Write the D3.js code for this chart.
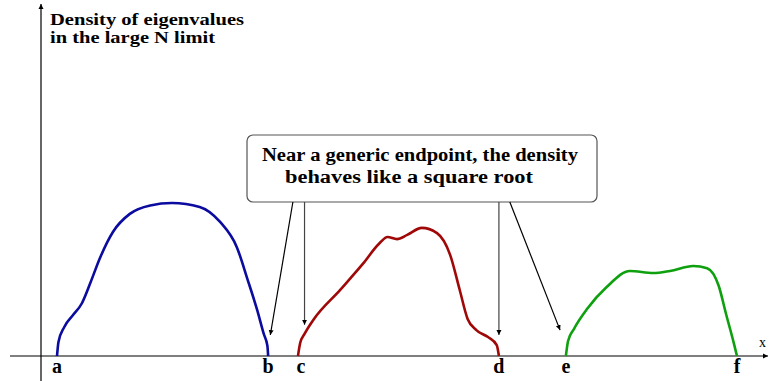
<!DOCTYPE html>
<html>
<head>
<meta charset="utf-8">
<script src="https://cdn.jsdelivr.net/npm/d3@7"></script>
<style>
  body { margin: 0; background: #fff; }
</style>
</head>
<body>
<div id="chart"></div>
<script>
// density curves, x in eigenvalue units (0-100), y in density units (0-100)
var blueBand = [
  [2.2, 0], [2.4, 4.0], [3.2, 8.3], [4.4, 11.7], [5.6, 15.0], [6.8, 21.0], [8.1, 28.0],
  [9.9, 35.5], [12.2, 40.6], [15.0, 43.0], [18.0, 43.7], [21.8, 42.6], [24.6, 38.3],
  [26.9, 31.1], [28.4, 21.7], [29.7, 13.1], [30.6, 6.3], [31.1, 2.9], [31.2, 0]
];
var redBand = [
  [35.3, 0], [35.6, 3.7], [36.2, 6.3], [37.4, 10.3], [41.1, 18.9], [44.2, 26.3],
  [46.4, 32.0], [47.6, 34.0], [48.9, 33.4], [50.3, 34.6], [52.3, 36.6], [54.4, 35.1],
  [56.2, 28.9], [57.5, 19.0], [58.6, 10.6], [59.8, 7.4], [61.4, 5.4], [62.6, 3.1], [62.9, 0]
];
var greenBand = [
  [72.1, 0], [72.4, 4.3], [73.2, 7.7], [75.0, 13.4], [77.7, 19.7], [80.9, 24.3],
  [84.1, 23.7], [86.4, 24.3], [89.6, 25.7], [91.5, 25.1], [93.1, 20.0], [94.1, 12.0],
  [95.2, 3.4], [95.6, 0]
];
var endpointNames = ["a", "b", "c", "d", "e", "f"];
var endpointValues = [2.2, 31.2, 35.3, 62.9, 72.1, 95.6];
var titleLines = ["Density of eigenvalues", "in the large N limit"];
var noteLines = ["Near a generic endpoint, the density", "behaves like a square root"];
// arrow targets (x, y) in data units, pointing at b, c, d, e
var arrowTargets = [[31.5, 6.0], [36.2, 8.9], [62.9, 6.0], [71.3, 7.4]];
var arrowSources = [34.6, 36.2, 62.9, 64.4];

var width = 769, height = 381;
var serif = "'Liberation Serif', 'DejaVu Serif', serif";

var svg = d3.select("#chart")
  .append("svg")
  .attr("width", width)
  .attr("height", height);

var x = d3.scaleLinear().domain([0, 100]).range([41, 769]);
var y = d3.scaleLinear().domain([0, 100]).range([356, 6]);

var defs = svg.append("defs");
defs.append("marker")
  .attr("id", "head")
  .attr("viewBox", "0 0 10 10")
  .attr("refX", 10).attr("refY", 5)
  .attr("markerWidth", 5).attr("markerHeight", 9)
  .attr("markerUnits", "userSpaceOnUse")
  .attr("orient", "auto")
  .append("path").attr("d", "M0,0 L10,5 L0,10 Z").attr("fill", "#000");

// axes
svg.append("line")
  .attr("x1", 10).attr("x2", 768)
  .attr("y1", y(0)).attr("y2", y(0))
  .attr("stroke", "#000").attr("stroke-width", 1.2)
  .attr("marker-end", "url(#head)");
svg.append("line")
  .attr("x1", x(0)).attr("x2", x(0))
  .attr("y1", 381).attr("y2", 4)
  .attr("stroke", "#000").attr("stroke-width", 1.2)
  .attr("marker-end", "url(#head)");
svg.append("text")
  .attr("x", 759).attr("y", 347)
  .attr("font-family", serif)
  .attr("font-size", 14)
  .text("x");

// title (widths)
var titleWidths = [194, 165];
svg.selectAll(".title")
  .data(titleLines)
  .enter()
  .append("text")
  .attr("class", "title")
  .attr("x", 50)
  .attr("y", function(d, i) { return 25 + i * 18; })
  .attr("font-family", serif)
  .attr("font-weight", "bold")
  .attr("font-size", 16.5)
  .attr("textLength", function(d, i) { return titleWidths[i]; })
  .attr("lengthAdjust", "spacingAndGlyphs")
  .text(function(d) { return d; });

// curves
var line = d3.line()
  .x(function(d) { return x(d[0]); })
  .y(function(d) { return y(d[1]); })
  .curve(d3.curveMonotoneX);

var bands = [
  { pts: blueBand, color: "#0b0ba0" },
  { pts: redBand, color: "#a00808" },
  { pts: greenBand, color: "#0ea00e" }
];
svg.selectAll(".band")
  .data(bands)
  .enter()
  .append("path")
  .attr("d", function(d) { return line(d.pts); })
  .attr("fill", "none")
  .attr("stroke", function(d) { return d.color; })
  .attr("stroke-width", 2.6);

// endpoint labels
svg.selectAll(".endpoint")
  .data(endpointNames)
  .enter()
  .append("text")
  .attr("x", function(d, i) { return x(endpointValues[i]) + (d === "c" ? 3 : 0); })
  .attr("y", 373)
  .attr("text-anchor", "middle")
  .attr("font-family", serif)
  .attr("font-weight", "bold")
  .attr("font-size", 20)
  .text(function(d) { return d; });

// annotation box
var boxTop = 135, boxBottom = 202;
svg.append("rect")
  .attr("x", 247).attr("y", boxTop)
  .attr("width", 350).attr("height", boxBottom - boxTop)
  .attr("rx", 6).attr("ry", 6)
  .attr("fill", "#fff")
  .attr("stroke", "#555").attr("stroke-width", 1.2);
var noteStarts = [262, 285], noteWidths = [316, 248];
svg.selectAll(".note")
  .data(noteLines)
  .enter()
  .append("text")
  .attr("class", "note")
  .attr("x", function(d, i) { return noteStarts[i]; })
  .attr("y", function(d, i) { return 161 + i * 22; })
  .attr("font-family", serif)
  .attr("font-weight", "bold")
  .attr("font-size", 18.5)
  .attr("textLength", function(d, i) { return noteWidths[i]; })
  .attr("lengthAdjust", "spacingAndGlyphs")
  .text(function(d) { return d; });

// arrows from box to endpoints
svg.selectAll(".arrow")
  .data(arrowTargets)
  .enter()
  .append("line")
  .attr("x1", function(d, i) { return x(arrowSources[i]); })
  .attr("y1", boxBottom)
  .attr("x2", function(d) { return x(d[0]); })
  .attr("y2", function(d) { return y(d[1]); })
  .attr("stroke", function(d, i) { return (i === 1 || i === 2) ? "#444" : "#000"; })
  .attr("stroke-width", 1.2)
  .attr("marker-end", "url(#head)");
</script>
</body>
</html>
